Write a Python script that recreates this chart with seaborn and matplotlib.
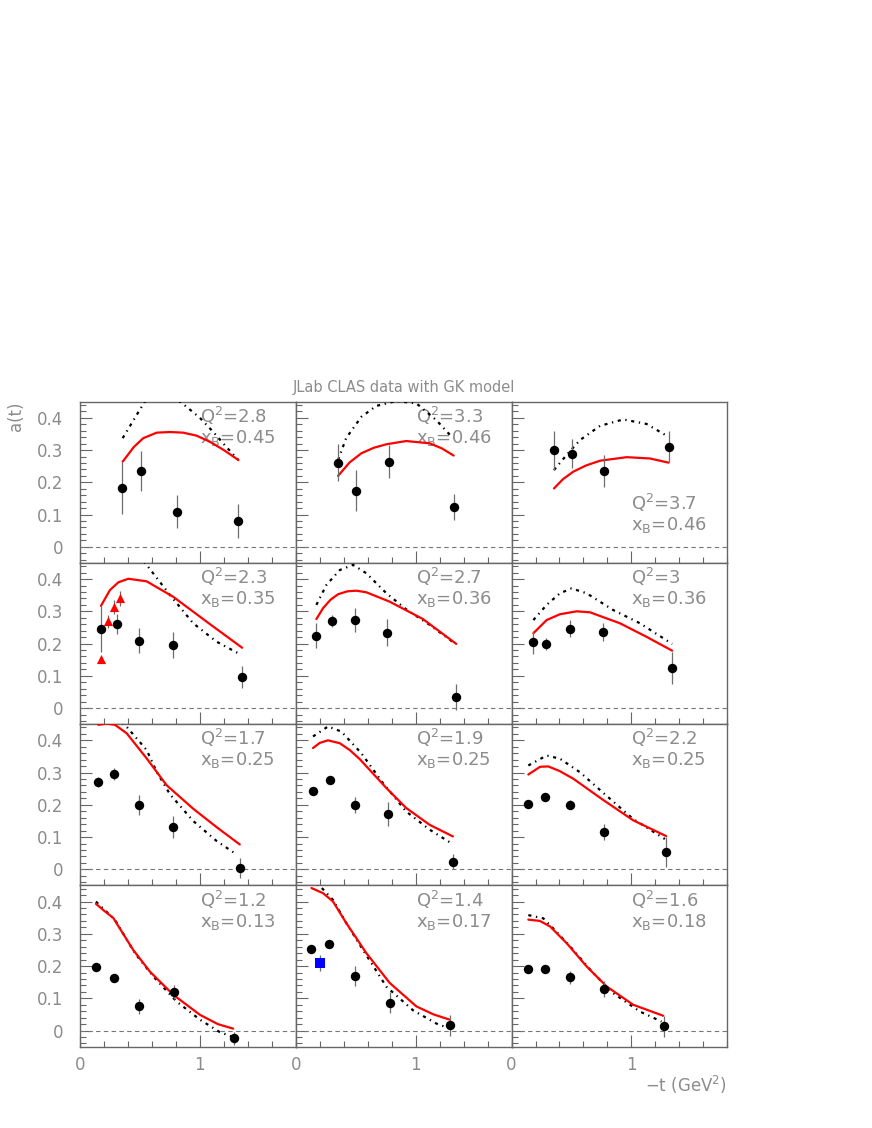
import numpy as np
import matplotlib
matplotlib.use("Agg")
import matplotlib.pyplot as plt
from matplotlib.ticker import MultipleLocator, FuncFormatter
import seaborn as sns

# panel labels (row by row)
panel_q2 = ["2.8", "3.3", "3.7", "2.3", "2.7", "3", "1.7", "1.9", "2.2", "1.2", "1.4", "1.6"]
panel_xb = ["0.45", "0.46", "0.46", "0.35", "0.36", "0.36", "0.25", "0.25", "0.25", "0.13", "0.17", "0.18"]

# CLAS data points: -t, a(t), error
pt_t = [
    [0.353, 0.506, 0.806, 1.322],
    [0.353, 0.503, 0.780, 1.317],
    [0.351, 0.501, 0.768, 1.310],
    [0.175, 0.306, 0.494, 0.772, 1.353],
    [0.172, 0.300, 0.492, 0.758, 1.339],
    [0.182, 0.290, 0.490, 0.760, 1.340],
    [0.153, 0.283, 0.494, 0.772, 1.333],
    [0.144, 0.283, 0.492, 0.769, 1.311],
    [0.140, 0.282, 0.490, 0.768, 1.290],
    [0.133, 0.283, 0.494, 0.783, 1.286],
    [0.131, 0.278, 0.492, 0.789, 1.283],
    [0.140, 0.282, 0.490, 0.768, 1.268],
]
pt_a = [
    [0.182, 0.236, 0.109, 0.081],
    [0.261, 0.174, 0.264, 0.123],
    [0.299, 0.289, 0.234, 0.310],
    [0.245, 0.262, 0.209, 0.196, 0.096],
    [0.225, 0.270, 0.273, 0.234, 0.034],
    [0.204, 0.198, 0.246, 0.236, 0.124],
    [0.270, 0.296, 0.200, 0.130, 0.003],
    [0.243, 0.276, 0.200, 0.172, 0.024],
    [0.203, 0.224, 0.201, 0.117, 0.053],
    [0.196, 0.162, 0.075, 0.120, -0.024],
    [0.253, 0.268, 0.170, 0.087, 0.016],
    [0.190, 0.190, 0.165, 0.130, 0.013],
]
pt_err = [
    [0.081, 0.062, 0.051, 0.053],
    [0.058, 0.063, 0.052, 0.041],
    [0.060, 0.044, 0.050, 0.048],
    [0.072, 0.031, 0.039, 0.040, 0.035],
    [0.039, 0.018, 0.037, 0.043, 0.040],
    [0.036, 0.018, 0.026, 0.029, 0.049],
    [0.015, 0.018, 0.031, 0.034, 0.031],
    [0.012, 0.012, 0.024, 0.038, 0.023],
    [0.010, 0.012, 0.015, 0.025, 0.047],
    [0.010, 0.010, 0.024, 0.022, 0.020],
    [0.010, 0.010, 0.031, 0.034, 0.033],
    [0.010, 0.010, 0.020, 0.025, 0.033],
]

# extra points: red triangles (Q2=2.3 panel), blue square (Q2=1.4 panel)
tri_t = [0.175, 0.233, 0.283, 0.336]
tri_a = [0.151, 0.269, 0.313, 0.340]
tri_err = [0.0, 0.020, 0.022, 0.023]
sq_t = [0.203]
sq_a = [0.209]
sq_err = [0.024]

# GK model, solid red
gk_t = [
    [0.356, 0.45, 0.528, 0.64, 0.75, 0.86, 0.97, 1.083, 1.20, 1.322],
    [0.353, 0.45, 0.547, 0.65, 0.756, 0.92, 1.117, 1.22, 1.317],
    [0.354, 0.43, 0.515, 0.62, 0.738, 0.96, 1.154, 1.31],
    [0.175, 0.25, 0.32, 0.403, 0.556, 0.778, 1.056, 1.353],
    [0.172, 0.228, 0.29, 0.353, 0.43, 0.506, 0.589, 0.783, 1.061, 1.339],
    [0.182, 0.293, 0.404, 0.543, 0.654, 0.904, 1.126, 1.34],
    [0.153, 0.222, 0.292, 0.389, 0.556, 0.722, 0.944, 1.139, 1.333],
    [0.144, 0.20, 0.269, 0.367, 0.45, 0.533, 0.756, 0.922, 1.117, 1.311],
    [0.14, 0.238, 0.307, 0.40, 0.515, 0.765, 1.015, 1.29],
    [0.133, 0.20, 0.278, 0.36, 0.444, 0.583, 0.778, 1.0, 1.15, 1.278],
    [0.131, 0.228, 0.311, 0.422, 0.589, 0.783, 1.006, 1.15, 1.283],
    [0.14, 0.236, 0.321, 0.46, 0.626, 0.793, 1.015, 1.265],
]
gk_a = [
    [0.264, 0.31, 0.337, 0.354, 0.356, 0.354, 0.345, 0.326, 0.30, 0.269],
    [0.220, 0.262, 0.29, 0.307, 0.318, 0.328, 0.321, 0.305, 0.283],
    [0.181, 0.21, 0.233, 0.252, 0.267, 0.278, 0.274, 0.261],
    [0.317, 0.366, 0.39, 0.401, 0.393, 0.345, 0.268, 0.187],
    [0.276, 0.31, 0.336, 0.353, 0.362, 0.364, 0.359, 0.33, 0.276, 0.199],
    [0.232, 0.273, 0.291, 0.30, 0.297, 0.263, 0.221, 0.178],
    [0.448, 0.452, 0.448, 0.422, 0.344, 0.261, 0.188, 0.131, 0.077],
    [0.376, 0.392, 0.40, 0.391, 0.37, 0.342, 0.252, 0.19, 0.138, 0.102],
    [0.294, 0.318, 0.319, 0.305, 0.281, 0.215, 0.152, 0.103],
    [0.393, 0.372, 0.349, 0.30, 0.25, 0.183, 0.111, 0.049, 0.02, 0.006],
    [0.442, 0.426, 0.40, 0.333, 0.24, 0.148, 0.075, 0.05, 0.034],
    [0.344, 0.34, 0.323, 0.271, 0.199, 0.137, 0.08, 0.046],
]

# second model curve, black dash-dot
dd_t = [
    [0.356, 0.45, 0.54, 0.70, 0.85, 1.0, 1.11, 1.22, 1.322],
    [0.353, 0.42, 0.547, 0.672, 0.839, 1.006, 1.172, 1.311],
    [0.354, 0.46, 0.571, 0.738, 0.932, 1.126, 1.31],
    [0.175, 0.30, 0.45, 0.556, 0.75, 0.944, 1.139, 1.319],
    [0.172, 0.256, 0.367, 0.478, 0.589, 0.756, 0.922, 1.117, 1.325],
    [0.182, 0.293, 0.404, 0.501, 0.626, 0.848, 1.071, 1.34],
    [0.153, 0.25, 0.375, 0.556, 0.639, 0.75, 0.944, 1.139, 1.311],
    [0.144, 0.269, 0.381, 0.547, 0.728, 0.922, 1.117, 1.297],
    [0.14, 0.293, 0.404, 0.571, 0.793, 1.015, 1.279],
    [0.133, 0.292, 0.458, 0.611, 0.806, 1.0, 1.167, 1.278],
    [0.131, 0.20, 0.311, 0.422, 0.561, 0.756, 0.978, 1.172, 1.278],
    [0.14, 0.265, 0.376, 0.515, 0.682, 0.848, 1.071, 1.251],
]
dd_a = [
    [0.337, 0.395, 0.45, 0.485, 0.446, 0.40, 0.357, 0.31, 0.269],
    [0.269, 0.337, 0.403, 0.437, 0.452, 0.445, 0.393, 0.337],
    [0.238, 0.285, 0.331, 0.375, 0.395, 0.381, 0.341],
    [0.48, 0.52, 0.495, 0.444, 0.351, 0.263, 0.206, 0.17],
    [0.32, 0.382, 0.428, 0.444, 0.418, 0.356, 0.306, 0.258, 0.201],
    [0.273, 0.32, 0.356, 0.371, 0.356, 0.304, 0.263, 0.199],
    [0.50, 0.49, 0.448, 0.37, 0.303, 0.233, 0.15, 0.088, 0.045],
    [0.412, 0.443, 0.427, 0.36, 0.267, 0.179, 0.123, 0.081],
    [0.322, 0.353, 0.343, 0.301, 0.228, 0.156, 0.094],
    [0.40, 0.343, 0.24, 0.168, 0.09, 0.034, -0.005, -0.02],
    [0.47, 0.449, 0.405, 0.333, 0.25, 0.136, 0.063, 0.022, 0.007],
    [0.358, 0.348, 0.306, 0.25, 0.178, 0.116, 0.059, 0.028],
]

sns.set_style("ticks")
plt.rcParams["font.family"] = ["DejaVu Sans"]
plt.rcParams["mathtext.fontset"] = "dejavusans"

txt_gray = "#8c8c8c"
frame = "#666666"
err_gray = "#6e6e6e"

fig = plt.figure(figsize=(8.72, 11.28), dpi=100)
axes = fig.subplots(4, 3, sharex=True, sharey=True,
                    gridspec_kw=dict(hspace=0, wspace=0))
fig.subplots_adjust(left=80 / 872, right=727.3 / 872,
                    top=1 - 401.7 / 1128, bottom=1 - 1046.7 / 1128)

for k, ax in enumerate(axes.flat):
    ax.axhline(0, color="#777777", lw=0.8, ls=(0, (4, 3)), zorder=1)

    sns.lineplot(x=dd_t[k], y=dd_a[k], ax=ax, color="black", lw=1.6,
                 sort=False, estimator=None, zorder=3,
                 ls=(0, (1.4, 2.1, 0.6, 2.1)))
    sns.lineplot(x=gk_t[k], y=gk_a[k], ax=ax, color="red", lw=1.6,
                 sort=False, estimator=None, zorder=4)

    ax.errorbar(pt_t[k], pt_a[k], yerr=pt_err[k], fmt="none",
                ecolor=err_gray, elinewidth=0.9, capsize=0, zorder=5)
    sns.scatterplot(x=pt_t[k], y=pt_a[k], ax=ax, color="black", s=46,
                    edgecolor="black", linewidth=0, zorder=6)

    if k == 3:
        ax.errorbar(tri_t, tri_a, yerr=tri_err, fmt="none",
                    ecolor=err_gray, elinewidth=0.9, capsize=0, zorder=5)
        sns.scatterplot(x=tri_t, y=tri_a, ax=ax, color="red", marker="^",
                        s=44, edgecolor="red", linewidth=0, zorder=6)
    if k == 10:
        ax.errorbar(sq_t, sq_a, yerr=sq_err, fmt="none",
                    ecolor=err_gray, elinewidth=0.9, capsize=0, zorder=5)
        sns.scatterplot(x=sq_t, y=sq_a, ax=ax, color="blue", marker="s",
                        s=44, edgecolor="blue", linewidth=0, zorder=6)

    # Q2 / xB labels
    y1, y2 = (0.114, 0.052) if k == 2 else (0.384, 0.322)
    ax.text(1.0, y1, rf"Q$^{{2}}$={panel_q2[k]}", fontsize=13,
            color=txt_gray, va="baseline", ha="left", zorder=2)
    ax.text(1.0, y2, rf"x$_{{\rm B}}$={panel_xb[k]}", fontsize=13,
            color=txt_gray, va="baseline", ha="left", zorder=2)

    ax.set_xlim(0, 1.8)
    ax.set_ylim(-0.05, 0.45)
    ax.xaxis.set_major_locator(MultipleLocator(1))
    ax.xaxis.set_minor_locator(MultipleLocator(0.2))
    ax.yaxis.set_major_locator(MultipleLocator(0.1))
    ax.yaxis.set_minor_locator(MultipleLocator(0.02))
    ax.xaxis.set_major_formatter(FuncFormatter(lambda v, p: f"{v:.0f}"))
    ax.yaxis.set_major_formatter(
        FuncFormatter(lambda v, p: "0" if abs(v) < 1e-9 else f"{v:.1f}"))
    ax.tick_params(which="both", direction="in", top=False, right=False,
                   color=frame, width=0.8, labelcolor=txt_gray, labelsize=12)
    ax.tick_params(which="major", length=8.5)
    ax.tick_params(which="minor", length=4.3)
    ax.tick_params(axis="y", pad=12)
    ax.tick_params(axis="x", pad=7)
    for sp in ax.spines.values():
        sp.set_color(frame)
        sp.set_linewidth(1.0)
    ax.set_xlabel("")
    ax.set_ylabel("")

fig.text(403.5 / 872, 1 - 392 / 1128, "JLab CLAS data with GK model",
         ha="center", va="baseline", fontsize=10.5, color=txt_gray)
fig.text(16 / 872, 1 - 401 / 1128, "a(t)", rotation=90, ha="center",
         va="top", fontsize=12, color=txt_gray)
fig.text(727 / 872, 1 - 1092 / 1128, r"$-$t (GeV$^{2}$)", ha="right",
         va="baseline", fontsize=12, color=txt_gray)

fig.savefig("out.png", dpi=100)
